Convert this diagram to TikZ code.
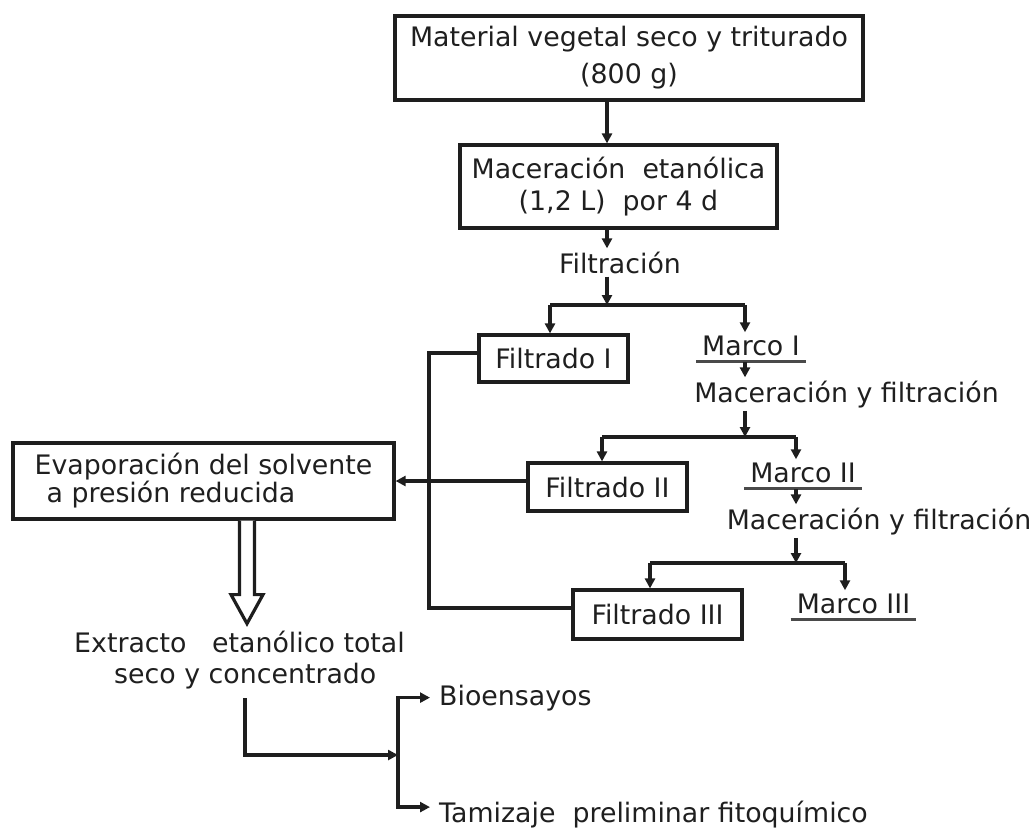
\documentclass[tikz,border=0pt]{standalone}
\usepackage{fontspec}
\setmainfont{DejaVu Sans}
\usetikzlibrary{arrows.meta}
\definecolor{ink}{HTML}{1E1E1E}
\definecolor{txt}{HTML}{1F1F1F}
\definecolor{ul}{HTML}{4A4A4A}
\newcommand\dfont{\fontsize{26.8}{32}\selectfont}
\begin{document}
\begin{tikzpicture}[x=1pt,y=-1pt,
  lbl/.style={font=\dfont, text=txt, inner sep=3pt},
  boxnode/.style={lbl, draw=ink, line width=3.2pt, inner sep=0pt, align=center},
  link/.style={draw=ink, line width=3.2pt},
  arr/.style={link, -{Triangle[length=10pt,width=10pt]}},
  uline/.style={draw=ul, line width=3pt},
  hollow/.style={draw=ink, line width=3.2pt, line join=miter, fill=white}]
\useasboundingbox (0,0) rectangle (1035,831);

% boxes and labels
\node[boxnode, minimum width=468pt, minimum height=84pt] (mat) at (629,58)
  {Material vegetal seco y triturado\\[5pt](800 g)};
\node[boxnode, minimum width=317pt, minimum height=83pt] (mac) at (618.5,186.5)
  {Maceración\ \ etanólica\\(1,2 L)\ \ por 4 d};
\node[lbl, anchor=base] (fil) at (620,273) {Filtración};
\node[boxnode, minimum width=149pt, minimum height=47pt] (f1) at (553.5,358.5) {Filtrado I};
\node[lbl, anchor=base] (m1) at (751,355) {Marco I};
\node[lbl, anchor=base] (mf1) at (846.5,402) {Maceración y filtración};
\node[boxnode, minimum width=159pt, minimum height=48pt] (f2) at (607.5,487) {Filtrado II};
\node[lbl, anchor=base] (m2) at (803,482) {Marco II};
\node[lbl, anchor=base] (mf2) at (879,529) {Maceración y filtración};
\node[boxnode, minimum width=169pt, minimum height=49pt] (f3) at (657.5,614.5) {Filtrado III};
\node[lbl, anchor=base] (m3) at (853.5,613) {Marco III};
\node[boxnode, align=left, minimum width=381pt, minimum height=76pt] (eva) at (203.5,481)
  {Evaporación del solvente\\[-4pt]\hspace*{12pt}a presión reducida};
\node[lbl, align=left, anchor=west] (ext) at (71,660.5)
  {Extracto\ \ \ etanólico total\\[-1pt]\hspace*{40pt}seco y concentrado};
\node[lbl, anchor=base west, inner sep=0pt] (bio) at (439,705) {Bioensayos};
\node[lbl, anchor=base west, inner sep=0pt] (tam) at (439,822) {Tamizaje\ \ preliminar fitoquímico};

% underlines of the residues
\draw[uline] ([xshift=-3pt,yshift=-6pt]m1.base west) -- ([xshift=3pt,yshift=-6pt]m1.base east);
\draw[uline] ([xshift=-3pt,yshift=-6pt]m2.base west) -- ([xshift=3pt,yshift=-6pt]m2.base east);
\draw[uline] ([xshift=-3pt,yshift=-6pt]m3.base west) -- ([xshift=3pt,yshift=-6pt]m3.base east);
\coordinate (u1) at ([yshift=-7pt]m1.base);
\coordinate (u2) at ([yshift=-7pt]m2.base);

% main stem
\coordinate (xa) at (607,0);
\draw[arr] (mat.south -| xa) -- (mac.north -| xa);
\draw[arr] (mac.south -| xa) -- (fil.north -| xa);

% first split
\coordinate (b1l) at (550,305);
\coordinate (b1r) at (745,305);
\draw[arr] (fil.south -| xa) -- (b1l -| xa);
\draw[link] (b1l) -- (b1r);
\draw[arr] (b1l) -- (f1.north -| b1l);
\draw[arr] (b1r) -- (m1.north -| b1r);
\draw[arr] (u1 -| b1r) -- (mf1.north -| b1r);

% second split
\coordinate (b2l) at (602,437);
\coordinate (b2r) at (796,437);
\draw[arr] (mf1.south -| b1r) -- (b2l -| b1r);
\draw[link] (b2l) -- (b2r);
\draw[arr] (b2l) -- (f2.north -| b2l);
\draw[arr] (b2r) -- (m2.north -| b2r);
\draw[arr] (u2 -| b2r) -- (mf2.north -| b2r);

% third split
\coordinate (b3l) at (650,563);
\coordinate (b3r) at (845,563);
\draw[arr] (mf2.south -| b2r) -- (b3l -| b2r);
\draw[link] (b3l) -- (b3r);
\draw[arr] (b3l) -- (f3.north -| b3l);
\draw[arr] (b3r) -- (m3.north -| b3r);

% filtrates collected for evaporation
\coordinate (c1) at (429,353);
\coordinate (c3) at (429,608);
\draw[link, line join=miter] (f1.west |- c1) -- (c1) -- (c3) -- (f3.west |- c3);
\draw[arr] (f2.west |- eva.east) -- (eva.east);

% hollow arrow to the dry extract
\coordinate (hx) at (247,0);
\coordinate (ha) at (eva.south -| hx);
\draw[hollow, shift={(ha)}] (-7.5,0) -- (-7.5,74) -- (-16,74) -- (0,103) -- (16,74) -- (7.5,74) -- (7.5,0);

% uses of the extract
\coordinate (e1) at (245,698);
\coordinate (j4) at (398,755);
\draw[arr] (e1) |- (j4);
\draw[arr, shorten >=9pt] (j4) |- (bio.west);
\draw[arr, shorten >=9pt] (j4) |- ([yshift=7pt]tam.west);
\end{tikzpicture}
\end{document}
